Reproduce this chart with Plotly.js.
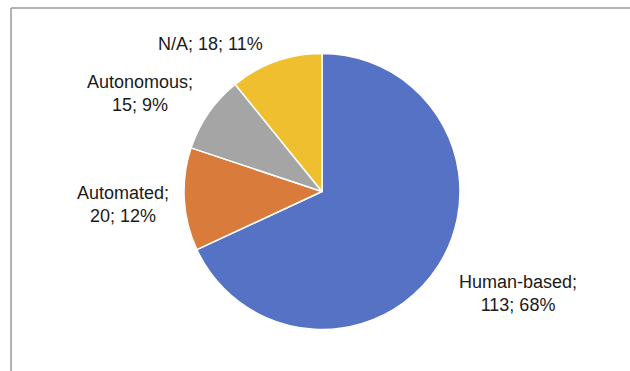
<!DOCTYPE html>
<html><head><meta charset="utf-8">
<script src="https://cdn.plot.ly/plotly-3.0.1.min.js"></script>
<style>html,body{margin:0;padding:0;background:#fff}#chart{width:630px;height:371px}</style>
</head><body><div id="chart"></div>
<script>
const categories = ["Human-based", "Automated", "Autonomous", "N/A"];
const counts = [113, 20, 15, 18];
const percents = [68, 12, 9, 11];
const colors = ["#5672C4", "#D87B3B", "#A5A5A5", "#F0BF2F"];
// label placement (paper coords) and line-break style
const labelPos = [[0.822, 0.210], [0.196, 0.450], [0.222, 0.747], [0.334, 0.881]];
const labelBreak = [true, true, true, false];

const W = 630, H = 371;
const cx = 322, cy = 191.5, r = 138;

const annotations = categories.map((c, i) => ({
  xref: "paper", yref: "paper",
  x: labelPos[i][0], y: labelPos[i][1],
  xanchor: "center", yanchor: "middle",
  text: labelBreak[i] ? `${c};<br>${counts[i]}; ${percents[i]}%` : `${c}; ${counts[i]}; ${percents[i]}%`,
  showarrow: false, align: "center",
  font: {family: "'Liberation Sans', Arial, sans-serif", size: 18, color: "#1a1a1a"}
}));

const data = [{
  type: "pie",
  labels: categories,
  values: counts,
  sort: false,
  direction: "clockwise",
  rotation: 0,
  marker: {colors: colors, line: {color: "#ffffff", width: 1.5}},
  textinfo: "none",
  hoverinfo: "label+value+percent",
  domain: {x: [(cx - r) / W, (cx + r) / W], y: [(H - cy - r) / H, (H - cy + r) / H]}
}];

const layout = {
  width: W, height: H,
  margin: {l: 0, r: 0, t: 0, b: 0},
  showlegend: false,
  paper_bgcolor: "#ffffff",
  annotations: annotations,
  shapes: [
    {type: "line", xref: "paper", yref: "paper", x0: 11 / W, x1: 1, y0: 1 - 8 / H, y1: 1 - 8 / H, line: {color: "#9a9a9a", width: 1.5}},
    {type: "line", xref: "paper", yref: "paper", x0: 11 / W, x1: 11 / W, y0: 0, y1: 1 - 8 / H, line: {color: "#9a9a9a", width: 1.5}}
  ]
};
Plotly.newPlot("chart", data, layout, {displayModeBar: false, staticPlot: true});
</script></body></html>
